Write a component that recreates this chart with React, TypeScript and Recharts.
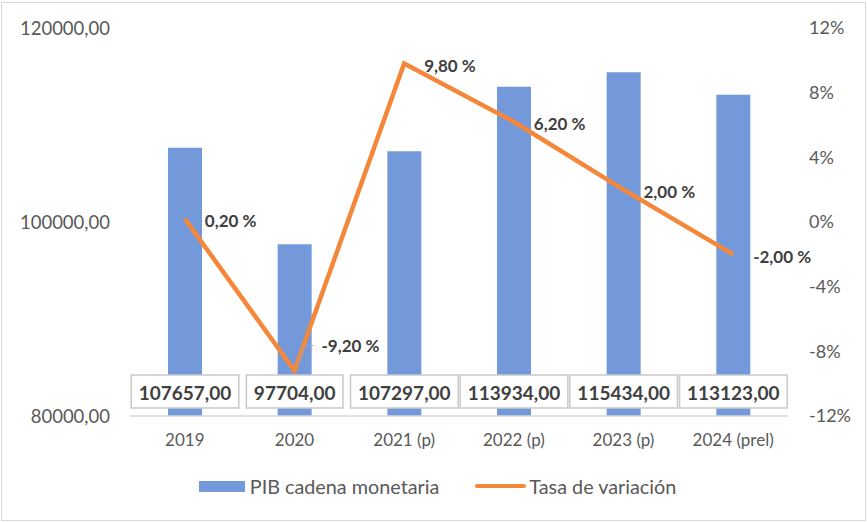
import React from 'react';
import { ComposedChart, Bar, Line, XAxis, YAxis, Legend, LabelList } from 'recharts';

const years = ['2019', '2020', '2021 (p)', '2022 (p)', '2023 (p)', '2024 (prel)'];
const pib = [107657, 97704, 107297, 113934, 115434, 113123];
const tasa = [0.2, -9.2, 9.8, 6.2, 2.0, -2.0];
const pibTicks = [80000, 100000, 120000];
const tasaTicks = [-12, -8, -4, 0, 4, 8, 12];

const data = years.map((year, i) => ({ year, pib: pib[i], tasa: tasa[i] }));

const FONT = 'Lato, "Liberation Sans", sans-serif';
const BAR_COLOR = '#7399DA';
const LINE_COLOR = '#F4873A';

const fmtNum = (v: number) => v.toFixed(2).replace('.', ',');

let canvas: HTMLCanvasElement | null = null;
const measure = (text: string, font: string) => {
  if (!canvas) canvas = document.createElement('canvas');
  const ctx = canvas.getContext('2d');
  if (!ctx) return text.length * 10;
  ctx.font = font;
  return ctx.measureText(text).width;
};

const BoxLabel = (props: any) => {
  const { x, y, width, height, value } = props;
  const text = fmtNum(Number(value));
  const cx = x + width / 2;
  const bottom = y + height;
  const w = measure(text, `bold 19px ${FONT}`) + 15;
  return (
    <g>
      <rect x={cx - w / 2} y={bottom - 41} width={w} height={33} fill="#fff" stroke="#c9c9c9" strokeWidth={1.5} />
      <text x={cx} y={bottom - 24} textAnchor="middle" dominantBaseline="central"
        fontFamily={FONT} fontWeight="bold" fontSize={19} fill="#404040">{text}</text>
    </g>
  );
};

const RateLabel = (props: any) => {
  const { x, y, value } = props;
  const text = `${Number(value).toFixed(2).replace('.', ',')} %`;
  if (value < -5) {
    return (
      <g>
        <polyline points={`${x + 3},${y - 5} ${x + 9},${y - 25} ${x + 19},${y - 25}`} fill="none" stroke="#a6a6a6" strokeWidth={1} />
        <text x={x + 27} y={y - 25} dominantBaseline="central" fontFamily={FONT} fontWeight="bold" fontSize={17} fill="#404040">{text}</text>
      </g>
    );
  }
  return (
    <text x={x + 20} y={y + 2} dominantBaseline="central" fontFamily={FONT} fontWeight="bold" fontSize={17} fill="#404040">{text}</text>
  );
};

const LegendContent = () => (
  <div style={{ display: 'flex', justifyContent: 'center', alignItems: 'center', fontFamily: FONT, fontSize: 19.8, color: '#595959', paddingLeft: 8 }}>
    <span style={{ display: 'inline-block', width: 46, height: 11, background: BAR_COLOR, marginRight: 5 }} />
    <span>PIB cadena monetaria</span>
    <span style={{ display: 'inline-block', width: 51, height: 4, background: LINE_COLOR, marginLeft: 36, marginRight: 3, borderRadius: 2 }} />
    <span>Tasa de variación</span>
  </div>
);

export default function App() {
  return (
    <div style={{ position: 'absolute', left: 0, top: 0, width: 867, height: 523, background: '#fff' }}>
      <div style={{ position: 'absolute', left: 1, top: 2, width: 863, height: 517, border: '1px solid #d9d9d9' }} />
      <ComposedChart width={867} height={523} data={data} margin={{ top: 28, right: 0, bottom: 67, left: 0 }}>
        <XAxis dataKey="year" axisLine={{ stroke: '#d9d9d9', strokeWidth: 1.5 }} tickLine={false} tickSize={0} tickMargin={18}
          height={40} tick={{ fill: '#595959', fontSize: 17, fontFamily: FONT }} />
        <YAxis yAxisId="left" domain={[80000, 120000]} ticks={pibTicks} width={130} axisLine={false} tickLine={false}
          tickSize={0} tickMargin={20} tickFormatter={fmtNum} tick={{ fill: '#595959', fontSize: 18.5, fontFamily: FONT }} />
        <YAxis yAxisId="right" orientation="right" domain={[-12, 12]} ticks={tasaTicks} width={79} axisLine={false} tickLine={false}
          tickSize={0} tickMargin={21} tickFormatter={(v: number) => `${v}%`} tick={{ fill: '#595959', fontSize: 18, fontFamily: FONT, textAnchor: 'start' }} />
        <Legend layout="horizontal" verticalAlign="middle" align="center" content={<LegendContent />}
          wrapperStyle={{ top: 474, left: 0, width: 867 }} />
        <Bar yAxisId="left" dataKey="pib" name="PIB cadena monetaria" fill={BAR_COLOR} barSize={34} isAnimationActive={false}>
          <LabelList dataKey="pib" content={<BoxLabel />} />
        </Bar>
        <Line yAxisId="right" dataKey="tasa" name="Tasa de variación" stroke={LINE_COLOR} strokeWidth={4.5} dot={false}
          activeDot={false} isAnimationActive={false}>
          <LabelList dataKey="tasa" content={<RateLabel />} />
        </Line>
      </ComposedChart>
    </div>
  );
}
